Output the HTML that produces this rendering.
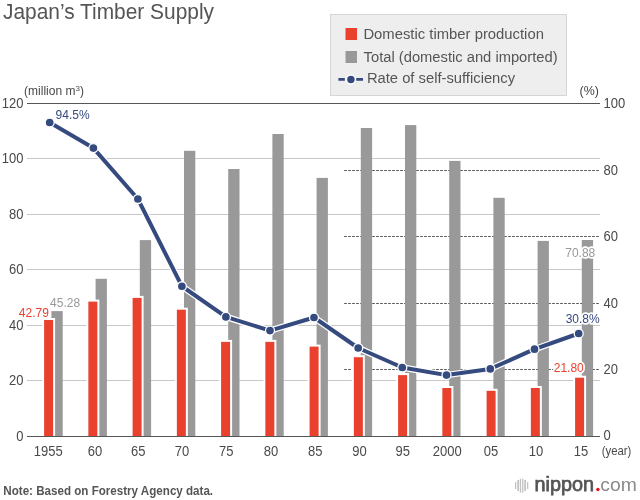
<!DOCTYPE html><html><head><meta charset="utf-8"><style>html,body{margin:0;padding:0;background:#fff;width:640px;height:500px;overflow:hidden}svg{display:block;will-change:transform}text{font-family:"Liberation Sans",sans-serif}</style></head><body>
<svg width="640" height="500" viewBox="0 0 640 500">
<text x="3" y="18.8" font-size="22" fill="#555" textLength="211" lengthAdjust="spacingAndGlyphs">Japan’s Timber Supply</text>
<rect x="330.5" y="14.5" width="236" height="81" fill="#eeeeee" stroke="#d6d6d6" stroke-width="1"/>
<rect x="345.5" y="28" width="11.5" height="12" fill="#e9412e"/>
<rect x="345.5" y="51" width="11.5" height="12" fill="#999999"/>
<line x1="338.4" y1="79.4" x2="363" y2="79.4" stroke="#354a7f" stroke-width="2.7" stroke-dasharray="6.4 11.4 6.8"/>
<circle cx="350.9" cy="79.4" r="4.5" fill="#354a7f" stroke="#ffffff" stroke-width="1.5"/>
<text x="363.4" y="39.3" font-size="14" fill="#555" textLength="180.5" lengthAdjust="spacingAndGlyphs">Domestic timber production</text>
<text x="363.6" y="61.8" font-size="14" fill="#555" textLength="194" lengthAdjust="spacingAndGlyphs">Total (domestic and imported)</text>
<text x="366.9" y="83.4" font-size="14" fill="#555" textLength="148.2" lengthAdjust="spacingAndGlyphs">Rate of self-sufficiency</text>
<text x="24.1" y="95" font-size="12" fill="#4a4a4a">(million m<tspan font-size="8" dy="-4">3</tspan><tspan dy="4">)</tspan></text>
<text x="579.5" y="95" font-size="12" fill="#444" textLength="19.3" lengthAdjust="spacingAndGlyphs">(%)</text>
<line x1="27" y1="158.5" x2="600" y2="158.5" stroke="#c8c8c8" stroke-width="1"/>
<line x1="27" y1="214.5" x2="600" y2="214.5" stroke="#c8c8c8" stroke-width="1"/>
<line x1="27" y1="269.5" x2="600" y2="269.5" stroke="#c8c8c8" stroke-width="1"/>
<line x1="27" y1="325.5" x2="600" y2="325.5" stroke="#c8c8c8" stroke-width="1"/>
<line x1="27" y1="380.5" x2="600" y2="380.5" stroke="#c8c8c8" stroke-width="1"/>
<line x1="344" y1="170.5" x2="600" y2="170.5" stroke="#555" stroke-width="1" stroke-dasharray="2.6 1.4" stroke-dashoffset="-0.2"/>
<line x1="344" y1="236.5" x2="600" y2="236.5" stroke="#555" stroke-width="1" stroke-dasharray="2.6 1.4" stroke-dashoffset="-0.2"/>
<line x1="344" y1="303.5" x2="600" y2="303.5" stroke="#555" stroke-width="1" stroke-dasharray="2.6 1.4" stroke-dashoffset="-0.2"/>
<line x1="344" y1="369.5" x2="600" y2="369.5" stroke="#555" stroke-width="1" stroke-dasharray="2.6 1.4" stroke-dashoffset="-0.2"/>
<rect x="51.40" y="311.1" width="11.3" height="124.90" fill="#999999"/>
<rect x="95.60" y="278.8" width="11.3" height="157.20" fill="#999999"/>
<rect x="139.80" y="240.1" width="11.3" height="195.90" fill="#999999"/>
<rect x="184.00" y="150.8" width="11.3" height="285.20" fill="#999999"/>
<rect x="228.20" y="169" width="11.3" height="267.00" fill="#999999"/>
<rect x="272.40" y="134" width="11.3" height="302.00" fill="#999999"/>
<rect x="316.60" y="177.9" width="11.3" height="258.10" fill="#999999"/>
<rect x="360.80" y="128" width="11.3" height="308.00" fill="#999999"/>
<rect x="405.00" y="125.1" width="11.3" height="310.90" fill="#999999"/>
<rect x="449.20" y="160.9" width="11.3" height="275.10" fill="#999999"/>
<rect x="493.40" y="197.8" width="11.3" height="238.20" fill="#999999"/>
<rect x="537.60" y="240.9" width="11.3" height="195.10" fill="#999999"/>
<rect x="581.80" y="240" width="11.3" height="196.00" fill="#999999"/>
<rect x="42.10" y="318" width="13" height="118.00" fill="#fff"/>
<rect x="44.10" y="320" width="9" height="116.00" fill="#e9412e"/>
<rect x="86.35" y="299.6" width="13" height="136.40" fill="#fff"/>
<rect x="88.35" y="301.6" width="9" height="134.40" fill="#e9412e"/>
<rect x="130.60" y="295.9" width="13" height="140.10" fill="#fff"/>
<rect x="132.60" y="297.9" width="9" height="138.10" fill="#e9412e"/>
<rect x="174.85" y="307.7" width="13" height="128.30" fill="#fff"/>
<rect x="176.85" y="309.7" width="9" height="126.30" fill="#e9412e"/>
<rect x="219.10" y="339.9" width="13" height="96.10" fill="#fff"/>
<rect x="221.10" y="341.9" width="9" height="94.10" fill="#e9412e"/>
<rect x="263.35" y="339.9" width="13" height="96.10" fill="#fff"/>
<rect x="265.35" y="341.9" width="9" height="94.10" fill="#e9412e"/>
<rect x="307.60" y="344.6" width="13" height="91.40" fill="#fff"/>
<rect x="309.60" y="346.6" width="9" height="89.40" fill="#e9412e"/>
<rect x="351.85" y="355.2" width="13" height="80.80" fill="#fff"/>
<rect x="353.85" y="357.2" width="9" height="78.80" fill="#e9412e"/>
<rect x="396.10" y="373.1" width="13" height="62.90" fill="#fff"/>
<rect x="398.10" y="375.1" width="9" height="60.90" fill="#e9412e"/>
<rect x="440.35" y="386" width="13" height="50.00" fill="#fff"/>
<rect x="442.35" y="388" width="9" height="48.00" fill="#e9412e"/>
<rect x="484.60" y="388.8" width="13" height="47.20" fill="#fff"/>
<rect x="486.60" y="390.8" width="9" height="45.20" fill="#e9412e"/>
<rect x="528.85" y="386" width="13" height="50.00" fill="#fff"/>
<rect x="530.85" y="388" width="9" height="48.00" fill="#e9412e"/>
<rect x="573.10" y="375.7" width="13" height="60.30" fill="#fff"/>
<rect x="575.10" y="377.7" width="9" height="58.30" fill="#e9412e"/>
<line x1="27" y1="103.5" x2="600" y2="103.5" stroke="#555" stroke-width="1"/>
<line x1="27" y1="436.5" x2="600" y2="436.5" stroke="#555" stroke-width="1"/>
<polyline points="49.7,122.5 93.4,148.1 137.9,199 181.9,286.25 225.9,316.9 270,330.6 314,317.5 358.2,348 402.3,367.5 446.5,375.1 490.3,368.9 534.5,349.2 578.7,333.5" fill="none" stroke="#fff" stroke-width="6.5" stroke-linejoin="round"/>
<polyline points="49.7,122.5 93.4,148.1 137.9,199 181.9,286.25 225.9,316.9 270,330.6 314,317.5 358.2,348 402.3,367.5 446.5,375.1 490.3,368.9 534.5,349.2 578.7,333.5" fill="none" stroke="#354a7f" stroke-width="4" stroke-linejoin="round"/>
<circle cx="49.7" cy="122.5" r="4.5" fill="#354a7f" stroke="#fff" stroke-width="1.3"/>
<circle cx="93.4" cy="148.1" r="4.5" fill="#354a7f" stroke="#fff" stroke-width="1.3"/>
<circle cx="137.9" cy="199" r="4.5" fill="#354a7f" stroke="#fff" stroke-width="1.3"/>
<circle cx="181.9" cy="286.25" r="4.5" fill="#354a7f" stroke="#fff" stroke-width="1.3"/>
<circle cx="225.9" cy="316.9" r="4.5" fill="#354a7f" stroke="#fff" stroke-width="1.3"/>
<circle cx="270" cy="330.6" r="4.5" fill="#354a7f" stroke="#fff" stroke-width="1.3"/>
<circle cx="314" cy="317.5" r="4.5" fill="#354a7f" stroke="#fff" stroke-width="1.3"/>
<circle cx="358.2" cy="348" r="4.5" fill="#354a7f" stroke="#fff" stroke-width="1.3"/>
<circle cx="402.3" cy="367.5" r="4.5" fill="#354a7f" stroke="#fff" stroke-width="1.3"/>
<circle cx="446.5" cy="375.1" r="4.5" fill="#354a7f" stroke="#fff" stroke-width="1.3"/>
<circle cx="490.3" cy="368.9" r="4.5" fill="#354a7f" stroke="#fff" stroke-width="1.3"/>
<circle cx="534.5" cy="349.2" r="4.5" fill="#354a7f" stroke="#fff" stroke-width="1.3"/>
<circle cx="578.7" cy="333.5" r="4.5" fill="#354a7f" stroke="#fff" stroke-width="1.3"/>
<text x="23.5" y="108.00" font-size="14" fill="#4a4a4a" text-anchor="end" textLength="21.69" lengthAdjust="spacingAndGlyphs">120</text>
<text x="23.5" y="163.00" font-size="14" fill="#4a4a4a" text-anchor="end" textLength="21.69" lengthAdjust="spacingAndGlyphs">100</text>
<text x="23.5" y="219.00" font-size="14" fill="#4a4a4a" text-anchor="end" textLength="14.46" lengthAdjust="spacingAndGlyphs">80</text>
<text x="23.5" y="274.00" font-size="14" fill="#4a4a4a" text-anchor="end" textLength="14.46" lengthAdjust="spacingAndGlyphs">60</text>
<text x="23.5" y="330.00" font-size="14" fill="#4a4a4a" text-anchor="end" textLength="14.46" lengthAdjust="spacingAndGlyphs">40</text>
<text x="23.5" y="385.00" font-size="14" fill="#4a4a4a" text-anchor="end" textLength="14.46" lengthAdjust="spacingAndGlyphs">20</text>
<text x="23.5" y="441.00" font-size="14" fill="#4a4a4a" text-anchor="end" textLength="7.23" lengthAdjust="spacingAndGlyphs">0</text>
<text x="603.6" y="107.80" font-size="14" fill="#4a4a4a" textLength="21.69" lengthAdjust="spacingAndGlyphs">100</text>
<text x="603.6" y="174.80" font-size="14" fill="#4a4a4a" textLength="14.46" lengthAdjust="spacingAndGlyphs">80</text>
<text x="603.6" y="240.80" font-size="14" fill="#4a4a4a" textLength="14.46" lengthAdjust="spacingAndGlyphs">60</text>
<text x="603.6" y="307.80" font-size="14" fill="#4a4a4a" textLength="14.46" lengthAdjust="spacingAndGlyphs">40</text>
<text x="603.6" y="373.80" font-size="14" fill="#4a4a4a" textLength="14.46" lengthAdjust="spacingAndGlyphs">20</text>
<text x="603.6" y="439.60" font-size="14" fill="#4a4a4a" textLength="7.23" lengthAdjust="spacingAndGlyphs">0</text>
<text x="48.3" y="455.5" font-size="14" fill="#4a4a4a" text-anchor="middle" textLength="28.92" lengthAdjust="spacingAndGlyphs">1955</text>
<text x="95" y="455.5" font-size="14" fill="#4a4a4a" text-anchor="middle" textLength="14.46" lengthAdjust="spacingAndGlyphs">60</text>
<text x="138.2" y="455.5" font-size="14" fill="#4a4a4a" text-anchor="middle" textLength="14.46" lengthAdjust="spacingAndGlyphs">65</text>
<text x="182" y="455.5" font-size="14" fill="#4a4a4a" text-anchor="middle" textLength="14.46" lengthAdjust="spacingAndGlyphs">70</text>
<text x="226.25" y="455.5" font-size="14" fill="#4a4a4a" text-anchor="middle" textLength="14.46" lengthAdjust="spacingAndGlyphs">75</text>
<text x="271" y="455.5" font-size="14" fill="#4a4a4a" text-anchor="middle" textLength="14.46" lengthAdjust="spacingAndGlyphs">80</text>
<text x="315.2" y="455.5" font-size="14" fill="#4a4a4a" text-anchor="middle" textLength="14.46" lengthAdjust="spacingAndGlyphs">85</text>
<text x="359.5" y="455.5" font-size="14" fill="#4a4a4a" text-anchor="middle" textLength="14.46" lengthAdjust="spacingAndGlyphs">90</text>
<text x="402.85" y="455.5" font-size="14" fill="#4a4a4a" text-anchor="middle" textLength="14.46" lengthAdjust="spacingAndGlyphs">95</text>
<text x="447.2" y="455.5" font-size="14" fill="#4a4a4a" text-anchor="middle" textLength="28.92" lengthAdjust="spacingAndGlyphs">2000</text>
<text x="490.9" y="455.5" font-size="14" fill="#4a4a4a" text-anchor="middle" textLength="14.46" lengthAdjust="spacingAndGlyphs">05</text>
<text x="535.9" y="455.5" font-size="14" fill="#4a4a4a" text-anchor="middle" textLength="14.46" lengthAdjust="spacingAndGlyphs">10</text>
<text x="580.9" y="455.5" font-size="14" fill="#4a4a4a" text-anchor="middle" textLength="14.46" lengthAdjust="spacingAndGlyphs">15</text>
<text x="601.8" y="454.8" font-size="12" fill="#4a4a4a" textLength="29.6" lengthAdjust="spacingAndGlyphs">(year)</text>
<text x="55.6" y="119.25" font-size="12" fill="#354a7f" stroke="#fff" stroke-width="3.5" paint-order="stroke" stroke-linejoin="round">94.5%</text>
<text x="599.7" y="322.5" font-size="12" fill="#354a7f" text-anchor="end" stroke="#fff" stroke-width="3.5" paint-order="stroke" stroke-linejoin="round">30.8%</text>
<text x="583.8" y="372.2" font-size="12" fill="#e9412e" text-anchor="end" stroke="#fff" stroke-width="3.5" paint-order="stroke" stroke-linejoin="round">21.80</text>
<text x="595.3" y="257" font-size="12" fill="#999999" text-anchor="end" stroke="#fff" stroke-width="3.5" paint-order="stroke" stroke-linejoin="round">70.88</text>
<text x="18.8" y="316.6" font-size="12" fill="#e9412e" stroke="#fff" stroke-width="3.5" paint-order="stroke" stroke-linejoin="round">42.79</text>
<text x="50.1" y="306.9" font-size="12" fill="#999999" stroke="#fff" stroke-width="3.5" paint-order="stroke" stroke-linejoin="round">45.28</text>
<text x="3.3" y="494.8" font-size="12" font-weight="bold" fill="#555" textLength="209.8" lengthAdjust="spacingAndGlyphs">Note: Based on Forestry Agency data.</text>
<g fill="#c2c2c2"><rect x="515" y="482" width="1.3" height="7"/><rect x="517.3" y="480" width="1.7" height="11"/><rect x="519.8" y="478.8" width="1.3" height="13.8"/><rect x="522.1" y="478.8" width="1.3" height="13.8"/><rect x="524.3" y="480" width="1.7" height="11"/><rect x="527" y="482" width="1.3" height="7"/></g>
<text x="534.6" y="490.6" font-size="19.5" fill="#555" stroke="#555" stroke-width="0.75" textLength="59.5" lengthAdjust="spacingAndGlyphs">nippon</text>
<circle cx="597.9" cy="489.5" r="1.7" fill="#e8101e"/>
<text x="600.3" y="490.6" font-size="19" fill="#8a8a8a" textLength="36.5" lengthAdjust="spacingAndGlyphs">com</text>
</svg></body></html>
